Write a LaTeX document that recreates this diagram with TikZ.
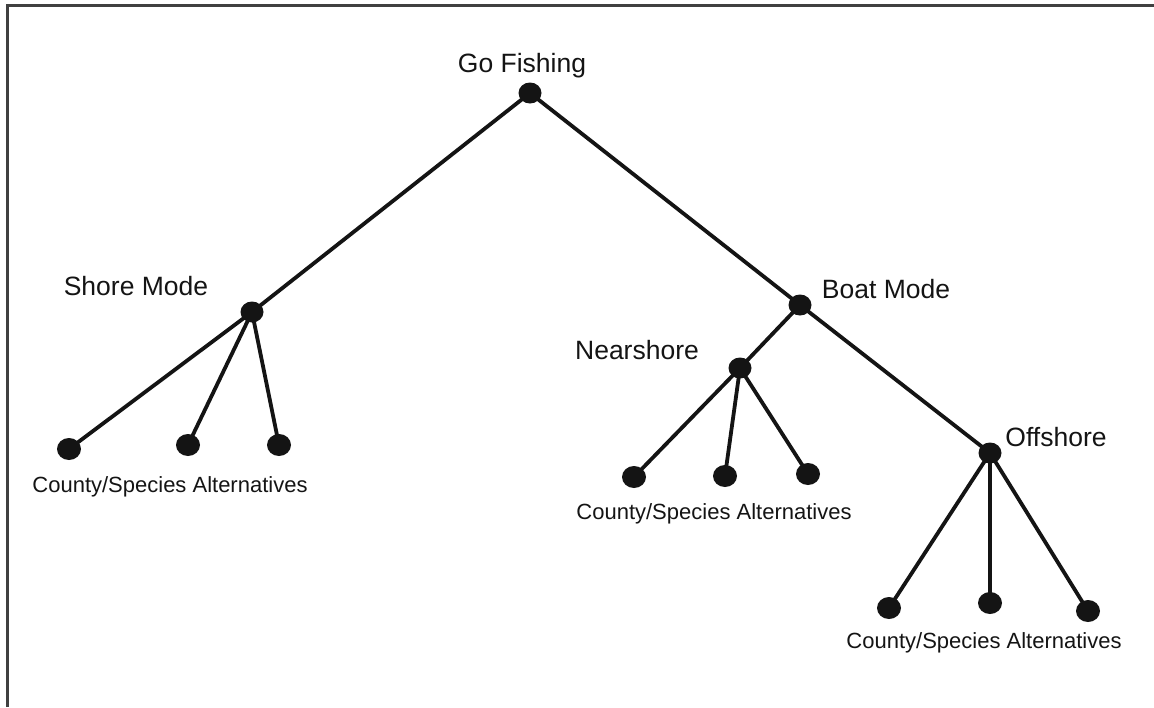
\documentclass[tikz,border=0pt]{standalone}
\usepackage{fontspec}
\setmainfont{Liberation Sans}
\usetikzlibrary{shapes.geometric}
\begin{document}
\begin{tikzpicture}[x=1pt,y=-1pt,
  dot/.style={ellipse,fill=black!92,inner sep=0pt,minimum width=23pt,minimum height=21pt},
  leaf/.style={ellipse,fill=black!92,inner sep=0pt,minimum width=24pt,minimum height=22pt},
  branch/.style={line width=3.8pt,black!92},
  lbl/.style={anchor=base,font=\fontsize{26.5}{30}\selectfont,text=black!92,inner sep=0pt},
  alt/.style={anchor=base,font=\fontsize{22}{25}\selectfont,text=black!92,inner sep=0pt}]
\useasboundingbox (0,0) rectangle (1154,707);
% frame edges
\draw[line width=2.2pt,black!75] (7.5,707) -- (7.5,5.5) -- (1154,5.5);

% decision nodes
\node[dot] (root) at (530,93) {};
\node[dot] (shore) at (252,312) {};
\node[dot] (boat) at (800,305) {};
\node[dot] (near) at (740,368) {};
\node[dot] (off) at (990,453) {};

% alternatives
\node[leaf] (s1) at (69,449) {};
\node[leaf] (s2) at (188,445) {};
\node[leaf] (s3) at (279,445) {};
\node[leaf] (n1) at (634,477) {};
\node[leaf] (n2) at (725,476) {};
\node[leaf] (n3) at (808,474) {};
\node[leaf] (o1) at (889,608) {};
\node[leaf] (o2) at (990,603) {};
\node[leaf] (o3) at (1088,611) {};

% branches
\draw[branch] (root.center) -- (shore.center);
\draw[branch] (root.center) -- (boat.center);
\draw[branch] (shore.center) -- (s1.center);
\draw[branch] (shore.center) -- (s2.center);
\draw[branch] (shore.center) -- (s3.center);
\draw[branch] (boat.center) -- (near.center);
\draw[branch] (boat.center) -- (off.center);
\draw[branch] (near.center) -- (n1.center);
\draw[branch] (near.center) -- (n2.center);
\draw[branch] (near.center) -- (n3.center);
\draw[branch] (off.center) -- (o1.center);
\draw[branch] (off.center) -- (o2.center);
\draw[branch] (off.center) -- (o3.center);

% labels
\node[lbl] (lroot) at (522,72) {Go Fishing};
\node[lbl] (lshore) at (136,295) {Shore Mode};
\node[lbl] (lboat) at (886,298) {Boat Mode};
\node[lbl] (lnear) at (637,359) {Nearshore};
\node[lbl] (loff) at (1056,446) {Offshore};
\node[alt] (as) at (170,492) {County/Species Alternatives};
\node[alt] (an) at (714,519) {County/Species Alternatives};
\node[alt] (ao) at (984,648) {County/Species Alternatives};
\end{tikzpicture}
\end{document}
